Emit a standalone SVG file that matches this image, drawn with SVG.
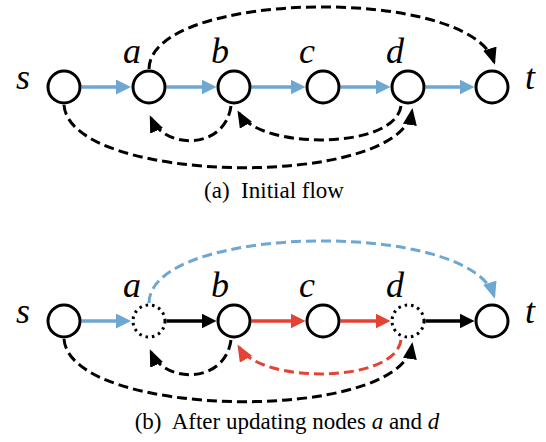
<svg xmlns="http://www.w3.org/2000/svg" width="546" height="442" viewBox="0 0 546 442">
<style>
.node{fill:#fff;stroke:#000;stroke-width:3}
.dot{fill:#fff;stroke:#000;stroke-width:3;stroke-dasharray:2.5 4}
.lbl{font-family:"Liberation Serif",serif;font-style:italic;font-size:36px;text-anchor:middle;fill:#000}
.cap{font-family:"Liberation Serif",serif;font-size:23px;text-anchor:middle;fill:#000;white-space:pre}
.solid{fill:none;stroke-width:3.5}
.dash{fill:none;stroke-width:3;stroke-dasharray:10 5}
.blue{stroke:#6ea7d2}
.red{stroke:#e34234}
.blk{stroke:#000}
</style>
<defs>
<marker id="hb" viewBox="0 0 15 15" refX="5" refY="7.5" markerWidth="15" markerHeight="15" markerUnits="userSpaceOnUse" orient="auto"><path d="M0,0 L15,7.5 L0,15 z" fill="#6ea7d2"/></marker>
<marker id="hr" viewBox="0 0 15 15" refX="5" refY="7.5" markerWidth="15" markerHeight="15" markerUnits="userSpaceOnUse" orient="auto"><path d="M0,0 L15,7.5 L0,15 z" fill="#e34234"/></marker>
<marker id="hk" viewBox="0 0 15 15" refX="5" refY="7.5" markerWidth="15" markerHeight="15" markerUnits="userSpaceOnUse" orient="auto"><path d="M0,0 L15,7.5 L0,15 z" fill="#000"/></marker>
<marker id="dk" viewBox="0 0 17 14" refX="14" refY="7" markerWidth="17" markerHeight="14" markerUnits="userSpaceOnUse" orient="auto"><path d="M0,0 L17,7 L0,14 z" fill="#000"/></marker>
<marker id="db" viewBox="0 0 17 14" refX="14" refY="7" markerWidth="17" markerHeight="14" markerUnits="userSpaceOnUse" orient="auto"><path d="M0,0 L17,7 L0,14 z" fill="#6ea7d2"/></marker>
<marker id="dr" viewBox="0 0 17 14" refX="14" refY="7" markerWidth="17" markerHeight="14" markerUnits="userSpaceOnUse" orient="auto"><path d="M0,0 L17,7 L0,14 z" fill="#e34234"/></marker>
</defs>

<g id="connectors">
<line class="solid blue" x1="81.5" y1="87" x2="121" y2="87" marker-end="url(#hb)"/>
<line class="solid blue" x1="166.5" y1="87" x2="206.5" y2="87" marker-end="url(#hb)"/>
<line class="solid blue" x1="251.5" y1="87" x2="295.5" y2="87" marker-end="url(#hb)"/>
<line class="solid blue" x1="340.5" y1="87" x2="380.5" y2="87" marker-end="url(#hb)"/>
<line class="solid blue" x1="425.5" y1="87" x2="464.5" y2="87" marker-end="url(#hb)"/>
<path class="dash blk" d="M149,69 C150,-10 470,-15 494,62" marker-end="url(#dk)"/>
<path class="dash blk" d="M231,106 C225,150 165,150 151,118" marker-end="url(#dk)"/>
<path class="dash blk" d="M401,106 C395,150 260,150 239,113" marker-end="url(#dk)"/>
<path class="dash blk" d="M64,105 C70,185 400,190 412,111" marker-end="url(#dk)"/>
<line class="solid blue" x1="81.5" y1="321" x2="121" y2="321" marker-end="url(#hb)"/>
<line class="solid blk" x1="166.5" y1="321" x2="206.5" y2="321" marker-end="url(#hk)"/>
<line class="solid red" x1="251.5" y1="321" x2="295.5" y2="321" marker-end="url(#hr)"/>
<line class="solid red" x1="340.5" y1="321" x2="380.5" y2="321" marker-end="url(#hr)"/>
<line class="solid blk" x1="425.5" y1="321" x2="464.5" y2="321" marker-end="url(#hk)"/>
<path class="dash blue" d="M149,303 C150,224 470,219 494,296" marker-end="url(#db)"/>
<path class="dash blk" d="M231,340 C225,384 165,384 151,352" marker-end="url(#dk)"/>
<path class="dash red" d="M401,340 C395,384 260,384 239,347" marker-end="url(#dr)"/>
<path class="dash blk" d="M64,339 C70,419 400,424 412,345" marker-end="url(#dk)"/>
</g>

<g id="top-s"><circle class="node" cx="64" cy="87" r="16"/><text class="lbl" x="23" y="89">s</text></g>
<g id="top-a"><circle class="node" cx="149" cy="87" r="16"/><text class="lbl" x="132" y="63">a</text></g>
<g id="top-b"><circle class="node" cx="234" cy="87" r="16"/><text class="lbl" x="220" y="63">b</text></g>
<g id="top-c"><circle class="node" cx="323" cy="87" r="16"/><text class="lbl" x="307" y="63">c</text></g>
<g id="top-d"><circle class="node" cx="408" cy="87" r="16"/><text class="lbl" x="395" y="63">d</text></g>
<g id="top-t"><circle class="node" cx="492" cy="87" r="16"/><text class="lbl" x="530" y="89">t</text></g>

<g id="bot-s"><circle class="node" cx="64" cy="321" r="16"/><text class="lbl" x="23" y="323">s</text></g>
<g id="bot-a"><circle class="dot" cx="149" cy="321" r="16"/><text class="lbl" x="132" y="297">a</text></g>
<g id="bot-b"><circle class="node" cx="234" cy="321" r="16"/><text class="lbl" x="220" y="297">b</text></g>
<g id="bot-c"><circle class="node" cx="323" cy="321" r="16"/><text class="lbl" x="307" y="297">c</text></g>
<g id="bot-d"><circle class="dot" cx="408" cy="321" r="16"/><text class="lbl" x="395" y="297">d</text></g>
<g id="bot-t"><circle class="node" cx="492" cy="321" r="16"/><text class="lbl" x="530" y="323">t</text></g>

<g id="captions">
<text class="cap" x="274" y="198" xml:space="preserve">(a)  Initial flow</text>
<text class="cap" x="287" y="429" xml:space="preserve">(b)  After updating nodes <tspan font-style="italic">a</tspan> and <tspan font-style="italic">d</tspan></text>
</g>
</svg>
